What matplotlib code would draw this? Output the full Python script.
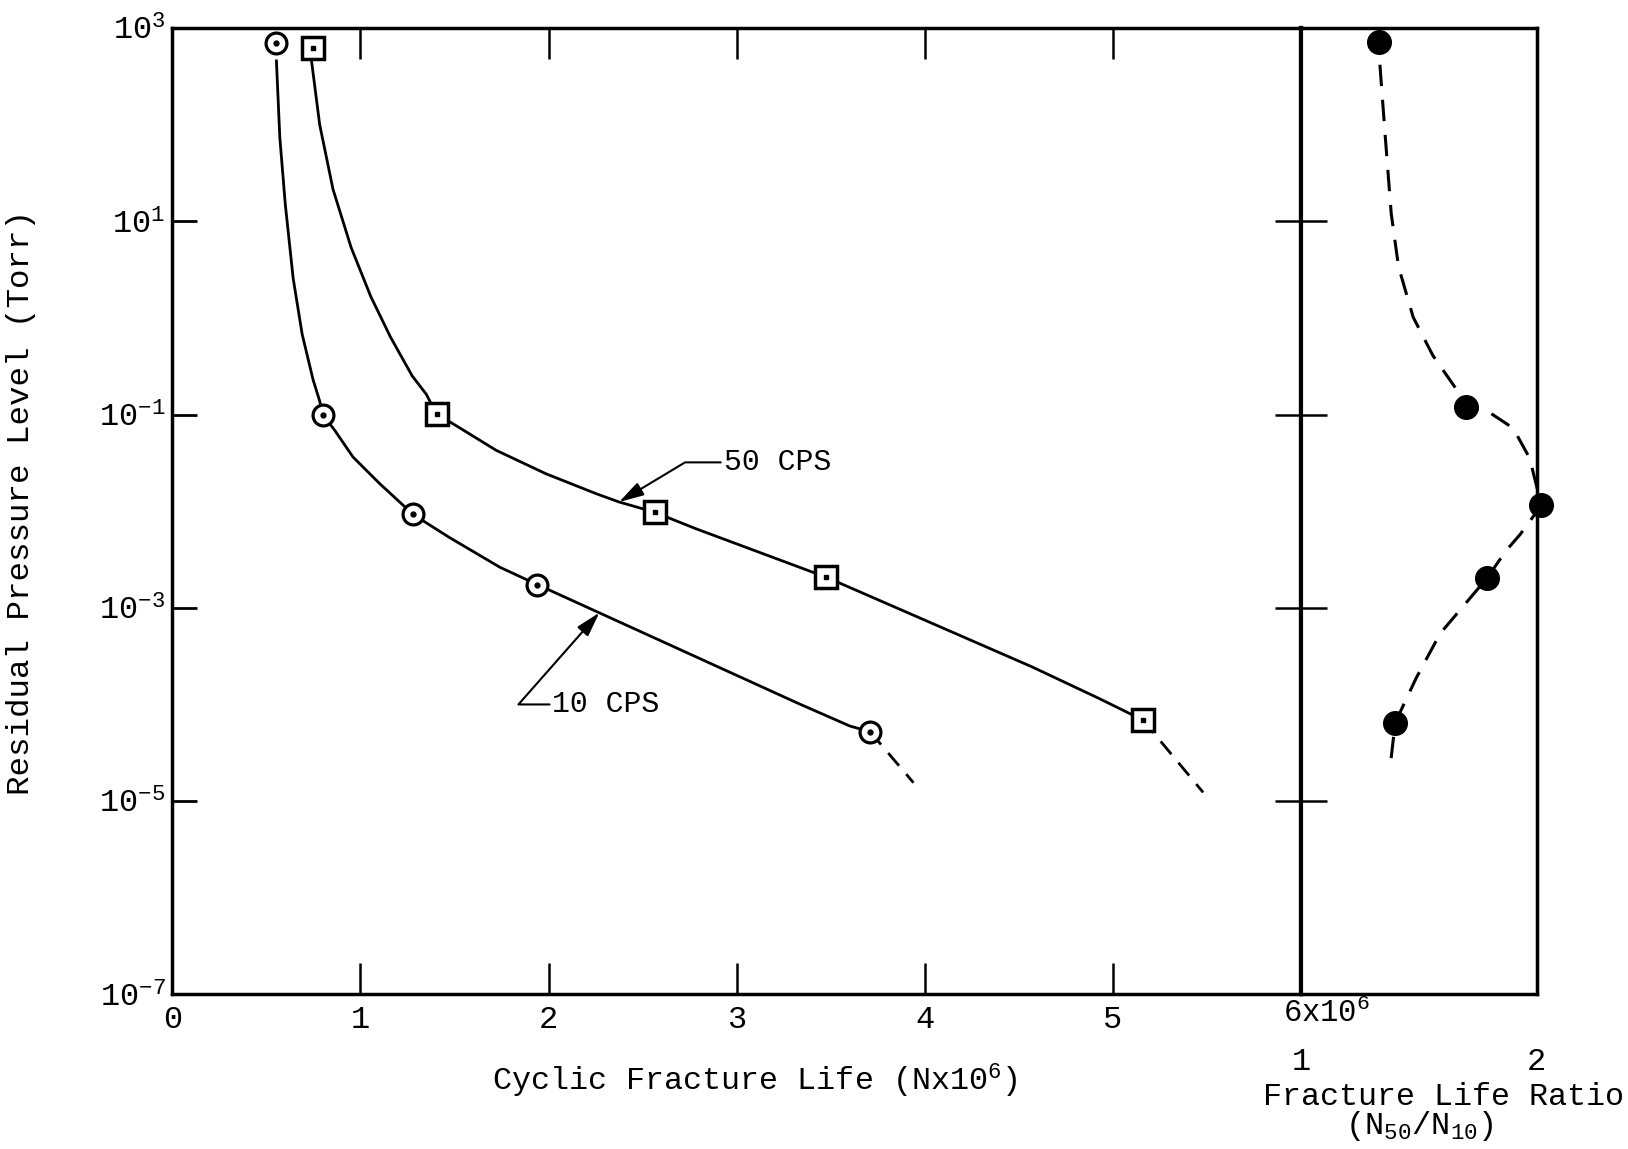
import matplotlib.pyplot as plt
import numpy as np

plt.rcParams['font.family'] = ['Liberation Mono', 'DejaVu Sans Mono']
plt.rcParams['mathtext.fontset'] = 'custom'
plt.rcParams['mathtext.rm'] = 'Liberation Mono'
plt.rcParams['mathtext.it'] = 'Liberation Mono'
plt.rcParams['mathtext.default'] = 'rm'

# measured points, 10 CPS (circles) and 50 CPS (squares)
pts10_x = [0.55, 0.80, 1.28, 1.94, 3.71]
pts10_p = [692, 0.100, 9.3e-3, 1.74e-3, 5.2e-5]
pts50_x = [0.75, 1.405, 2.566, 3.477, 5.16]
pts50_p = [617, 0.102, 9.8e-3, 2.07e-3, 6.9e-5]

# hand drawn curves through the points
curve10_x = [0.553, 0.571, 0.600, 0.642, 0.690, 0.748, 0.783, 0.799, 0.863, 0.960,
             1.102, 1.208, 1.279, 1.471, 1.741, 1.94, 3.33, 3.60, 3.71]
curve10_p = [457, 74, 15.1, 2.57, 0.676, 0.229, 0.138, 0.100, 0.0687, 0.0364,
             0.0193, 0.01245, 9.27e-3, 5.37e-3, 2.63e-3, 1.74e-3, 1.02e-4, 6.0e-5, 5.2e-5]
tail10_x = [3.71, 3.94]
tail10_p = [5.2e-5, 1.55e-5]

curve50_x = [0.739, 0.783, 0.854, 0.95, 1.055, 1.16, 1.275, 1.35, 1.403, 1.491,
             1.721, 1.986, 2.252, 2.375, 2.561, 2.782, 3.477, 4.04, 4.57, 4.92, 5.16]
curve50_p = [468, 100, 21.4, 5.37, 1.66, 0.631, 0.251, 0.162, 0.102, 0.0805,
             0.0427, 0.0244, 0.0152, 0.01245, 9.8e-3, 6.6e-3, 2.07e-3, 6.9e-4, 2.45e-4,
             1.17e-4, 6.9e-5]
tail50_x = [5.16, 5.48]
tail50_p = [6.9e-5, 1.23e-5]

# fracture life ratio N50/N10
ratio_x = [1.33, 1.70, 2.02, 1.79, 1.40]
ratio_p = [724, 0.119, 0.0115, 2.04e-3, 6.5e-5]
ratio_curve_x = [1.335, 1.357, 1.383, 1.414, 1.476, 1.56, 1.66, 1.70, 1.80, 1.90,
                 1.97, 2.02, 1.93, 1.87, 1.79, 1.59, 1.49, 1.40, 1.38]
ratio_curve_p = [417, 79.4, 12.0, 3.39, 1.02, 0.407, 0.182, 0.119, 0.105, 0.0724,
                 0.0355, 0.0115, 5.75e-3, 3.9e-3, 2.04e-3, 5.4e-4, 1.9e-4, 6.5e-5, 2.45e-5]

ytick_vals = [1e-7, 1e-5, 1e-3, 1e-1, 1e1, 1e3]
ytick_labels = ['10$^{-7}$', '10$^{-5}$', '10$^{-3}$', '10$^{-1}$', '10$^{1}$', '10$^{3}$']
xtick_vals = [0, 1, 2, 3, 4, 5]
xtick_labels = ['0', '1', '2', '3', '4', '5']

fig = plt.figure(figsize=(16.28, 11.49), dpi=100)
ax = fig.add_axes([0.1059, 0.1346, 0.6932, 0.841])
ax2 = fig.add_axes([0.7991, 0.1346, 0.1448, 0.841], sharey=ax)

ax.set_yscale('log')
ax.set_ylim(1e-7, 1e3)
ax.set_xlim(0, 6)
ax2.set_xlim(1, 2)

lw = 2.0
ax.plot(curve10_x, curve10_p, color='black', lw=lw, zorder=2)
ax.plot(tail10_x, tail10_p, color='black', lw=lw, ls=(0, (6, 4)), zorder=2)
ax.plot(curve50_x, curve50_p, color='black', lw=lw, zorder=2)
ax.plot(tail50_x, tail50_p, color='black', lw=lw, ls=(0, (6, 4)), zorder=2)

ax.plot(pts10_x, pts10_p, 'o', ms=15, mfc='white', mec='black', mew=2.3, zorder=3)
ax.plot(pts10_x, pts10_p, 'o', ms=3.5, color='black', zorder=4)
ax.plot(pts50_x, pts50_p, 's', ms=16, mfc='white', mec='black', mew=2.5, zorder=3)
ax.plot(pts50_x, pts50_p, 's', ms=3.5, color='black', zorder=4)

ax2.plot(ratio_curve_x, ratio_curve_p, color='black', lw=2.2, ls=(0, (7, 4.5)),
         clip_on=False, zorder=2)
ax2.plot(ratio_x, ratio_p, 'o', ms=17, color='black', clip_on=False, zorder=3)

# labels on the curves
ax.annotate('50 CPS', xy=(2.375, 0.01245), xytext=(2.93, 0.032),
            fontsize=21.5, va='center', ha='left',
            arrowprops=dict(arrowstyle='-|>,head_length=0.7,head_width=0.2',
                            connectionstyle='angle,angleA=0,angleB=31,rad=0',
                            color='black', lw=1.5, shrinkA=0, shrinkB=0,
                            relpos=(0, 0.5)))
ax.annotate('10 CPS', xy=(2.27, 10 ** -3.05), xytext=(2.02, 1.0e-4),
            fontsize=21.5, va='center', ha='left',
            arrowprops=dict(arrowstyle='-|>,head_length=0.7,head_width=0.2',
                            connectionstyle='angle,angleA=0,angleB=48.6,rad=0',
                            color='black', lw=1.5, shrinkA=0, shrinkB=0,
                            relpos=(0, 0.5)))

ax.minorticks_off()
ax.set_yticks(ytick_vals)
ax.set_yticklabels(ytick_labels)
ax.set_xticks(xtick_vals)
ax.set_xticklabels(xtick_labels)
ax.tick_params(axis='y', direction='in', length=18, width=2, labelsize=23, pad=5)
ax.tick_params(axis='x', direction='in', length=22, width=1.8, top=True,
               labelsize=23, pad=8)
ax.text(5.906, -0.004, '6x10$^{6}$', transform=ax.get_xaxis_transform(),
        ha='left', va='top', fontsize=22)

ax2.set_xticks([1, 2])
ax2.set_xticklabels(['1', '2'])
ax2.tick_params(axis='x', length=0, labelsize=23, pad=38)
ax2.tick_params(axis='y', left=True, right=False, direction='inout', length=38,
                width=1.8, labelleft=False)

for s in ax.spines.values():
    s.set_linewidth(2.5)
for s in ax2.spines.values():
    s.set_linewidth(2.5)
ax.spines['right'].set_linewidth(3)
ax2.spines['left'].set_linewidth(3)

fig.text(0.0128, 0.563, 'Residual Pressure Level (Torr)', rotation=90,
         ha='center', va='center', fontsize=23.4)
fig.text(0.4636, 0.0596, 'Cyclic Fracture Life (Nx10$^{6}$)',
         ha='center', va='center', fontsize=22.9)
fig.text(0.8865, 0.0452, 'Fracture Life Ratio', ha='center', va='center', fontsize=22.9)
fig.text(0.872, 0.0199, '(N$_{50}$/N$_{10}$)', ha='center', va='center', fontsize=23)

fig.savefig('out.png', dpi=100)
